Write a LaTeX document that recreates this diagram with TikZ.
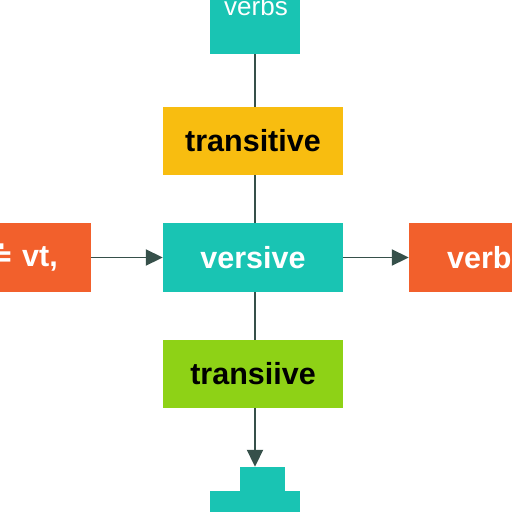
\documentclass[tikz,border=0pt]{standalone}
\usepackage{fontspec}
\setmainfont{Liberation Sans}
\newfontfamily\symfont{DejaVu Sans}
\usetikzlibrary{arrows.meta}
\definecolor{tealc}{HTML}{19C4B3}
\definecolor{yellowc}{HTML}{F8BD10}
\definecolor{orangec}{HTML}{F2602C}
\definecolor{greenc}{HTML}{8ED216}
\definecolor{linec}{HTML}{36504A}
\tikzset{
  box/.style={draw=none, rectangle, inner sep=0pt, minimum width=180pt, minimum height=68pt},
  lbl/.style={inner sep=0pt, font=\fontsize{30.5}{30.5}\selectfont\bfseries},
  conn/.style={draw=linec, line width=1.9pt},
  arr/.style={conn, -{Triangle[length=17pt,width=16pt]}}
}
\begin{document}
\begin{tikzpicture}[x=1pt,y=-1pt]
\useasboundingbox (0,0) rectangle (512,512);
\clip (0,0) rectangle (512,512);
\fill[white] (0,0) rectangle (512,512);
% boxes
\node[box, fill=tealc, minimum width=90pt, minimum height=74pt] (top) at (255,17) {};
\node[lbl, font=\fontsize{26}{26}\selectfont, text=white, anchor=base] (toplbl) at (256,15) {verbs};
\node[box, fill=yellowc] (trans) at (253,141) {};
\node[lbl, text=black] (translbl) at (trans) {transitive};
\node[box, fill=tealc, minimum height=69pt] (vers) at (253,257.5) {};
\node[lbl, text=white] (verslbl) at (vers) {versive};
\node[box, fill=greenc] (trn) at (253,374) {};
\node[lbl, text=black] (trnlbl) at (trn) {transiive};
\node[box, fill=orangec, minimum width=131pt, minimum height=69pt] (left) at (25.5,257.5) {};
\node[lbl, text=white, anchor=east] (leftlbl) at (58,257.5) {{\symfont\bfseries ≐} vt,};
\node[box, fill=orangec, minimum width=131pt, minimum height=69pt] (right) at (474.5,257.5) {};
\node[lbl, text=white, anchor=west] (rightlbl) at (447,257.5) {verbs};
\node[box, fill=tealc, minimum width=45pt, minimum height=26pt] (bstep) at (262,480) {};
\node[box, fill=tealc, minimum width=90pt, minimum height=25pt] (bbase) at (255,503) {};
% connectors
\draw[conn] (top.south -| 255,0) -- (trans.north -| 255,0);
\draw[conn] (trans.south -| 255,0) -- (vers.north -| 255,0);
\draw[conn] (vers.south -| 255,0) -- (trn.north -| 255,0);
\draw[arr] (trn.south -| 255,0) -- (bstep.north -| 255,0);
\draw[arr] (left.east) -- (vers.west);
\draw[arr] (vers.east) -- (right.west);
\end{tikzpicture}
\end{document}
